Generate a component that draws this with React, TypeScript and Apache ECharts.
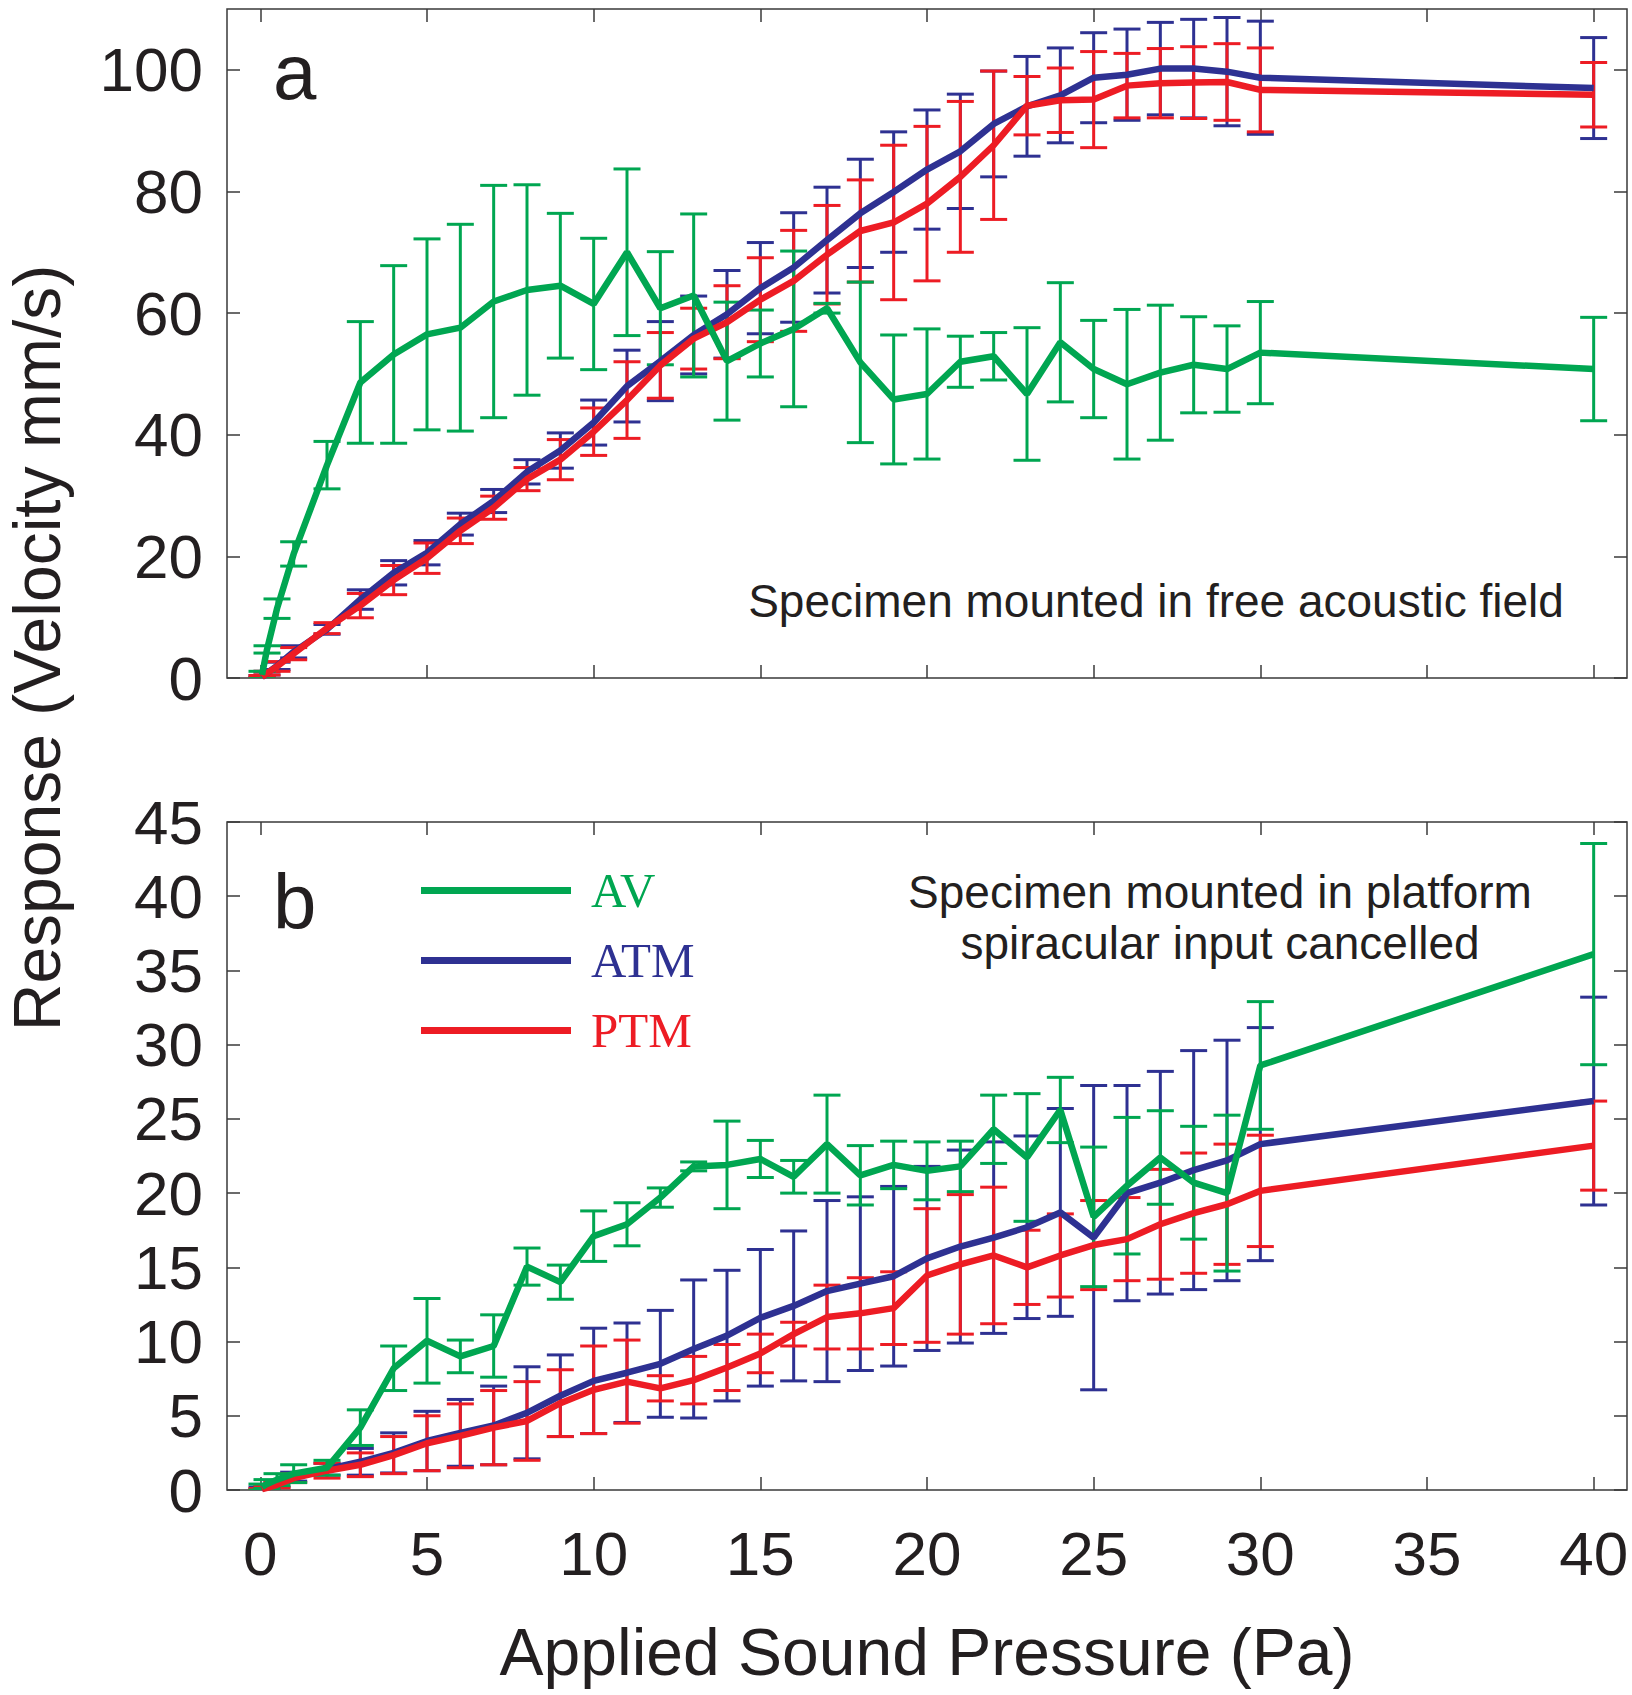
import React, { useEffect, useRef } from "react";
import * as echarts from "echarts";

// Applied sound pressure (Pa)
const PRESSURE = [0.05, 0.2, 0.5, 1, 2, 3, 4, 5, 6, 7, 8, 9, 10, 11, 12, 13, 14, 15, 16, 17, 18, 19, 20, 21, 22, 23, 24, 25, 26, 27, 28, 29, 30, 40];

// Panel a: specimen mounted in free acoustic field
const AV_A_MEAN = [0.5, 4.7, 11.4, 20.4, 35.0, 48.6, 53.2, 56.5, 57.6, 61.9, 63.8, 64.5, 61.5, 70.0, 60.8, 62.9, 52.1, 55.0, 57.4, 60.8, 51.9, 45.8, 46.7, 52.0, 52.9, 46.7, 55.2, 50.8, 48.3, 50.2, 51.5, 50.8, 53.5, 50.8];
const AV_A_SD = [0.6, 0.6, 1.6, 2.0, 3.9, 10.0, 14.6, 15.7, 17.0, 19.1, 17.3, 11.9, 10.8, 13.7, 9.3, 13.4, 9.7, 5.5, 12.8, 0.8, 13.2, 10.6, 10.7, 4.2, 3.9, 10.9, 9.8, 8.0, 12.3, 11.1, 7.9, 7.1, 8.4, 8.5];
const ATM_A_MEAN = [0.2, 0.8, 2.0, 4.3, 8.0, 12.9, 17.3, 20.6, 25.3, 29.1, 33.9, 37.4, 42.0, 48.0, 52.1, 56.4, 59.8, 64.1, 67.5, 72.0, 76.4, 79.9, 83.6, 86.6, 91.1, 94.0, 95.8, 98.7, 99.2, 100.2, 100.2, 99.7, 98.7, 97.0];
const ATM_A_SD = [0.2, 0.3, 0.6, 1.0, 0.8, 1.6, 2.0, 2.0, 1.8, 1.9, 2.0, 2.9, 3.7, 5.9, 6.5, 6.4, 7.2, 7.5, 9.0, 8.7, 8.9, 9.9, 9.8, 9.4, 8.7, 8.2, 7.8, 7.4, 7.5, 7.6, 8.1, 8.9, 9.3, 8.3];
const PTM_A_MEAN = [0.2, 0.8, 1.9, 4.0, 8.2, 11.9, 16.1, 19.7, 24.2, 28.0, 32.7, 35.9, 40.5, 45.7, 51.4, 55.8, 58.5, 62.2, 65.3, 69.6, 73.5, 74.9, 78.0, 82.4, 87.6, 94.1, 95.0, 95.1, 97.4, 97.8, 97.9, 98.0, 96.7, 95.9];
const PTM_A_SD = [0.2, 0.3, 0.8, 1.0, 0.9, 2.0, 2.4, 2.5, 2.1, 1.9, 1.9, 3.3, 3.9, 6.3, 5.4, 5.0, 6.0, 6.9, 8.3, 8.1, 8.4, 12.7, 12.7, 12.4, 12.2, 4.8, 5.3, 7.9, 5.3, 5.7, 5.9, 6.3, 6.9, 5.3];

// Panel b: specimen mounted in platform, spiracular input cancelled
const AV_B_MEAN = [0.2, 0.4, 0.7, 1.1, 1.5, 4.2, 8.2, 10.05, 9.0, 9.7, 15.05, 14.0, 17.1, 17.9, 19.7, 21.8, 21.9, 22.3, 21.1, 23.3, 21.2, 21.9, 21.5, 21.8, 24.3, 22.4, 25.6, 18.4, 20.5, 22.4, 20.7, 20.0, 28.6, 36.1];
const AV_B_SD = [0.2, 0.3, 0.4, 0.6, 0.5, 1.2, 1.5, 2.85, 1.1, 2.1, 1.25, 1.15, 1.7, 1.45, 0.65, 0.3, 2.95, 1.25, 1.1, 3.3, 2.0, 1.6, 1.95, 1.7, 2.3, 4.3, 2.2, 4.7, 4.6, 3.15, 3.8, 5.25, 4.3, 7.45];
const ATM_B_MEAN = [0.1, 0.2, 0.4, 0.9, 1.4, 1.9, 2.5, 3.3, 3.85, 4.35, 5.2, 6.35, 7.35, 7.9, 8.5, 9.5, 10.4, 11.6, 12.4, 13.4, 13.9, 14.4, 15.6, 16.4, 17.0, 17.7, 18.7, 17.0, 20.0, 20.7, 21.55, 22.2, 23.3, 26.2];
const ATM_B_SD = [0.1, 0.1, 0.2, 0.3, 0.4, 0.9, 1.35, 2.0, 2.25, 2.65, 3.1, 2.75, 3.55, 3.35, 3.6, 4.65, 4.4, 4.6, 5.05, 6.1, 5.85, 6.05, 6.2, 6.5, 6.45, 6.15, 7.0, 10.25, 7.25, 7.5, 8.05, 8.1, 7.85, 7.0];
const PTM_B_MEAN = [0.05, 0.15, 0.35, 0.8, 1.3, 1.7, 2.35, 3.15, 3.65, 4.2, 4.65, 5.85, 6.75, 7.3, 6.85, 7.4, 8.25, 9.2, 10.5, 11.65, 11.9, 12.25, 14.45, 15.2, 15.8, 15.0, 15.8, 16.5, 16.9, 17.9, 18.65, 19.25, 20.15, 23.2];
const PTM_B_SD = [0.05, 0.1, 0.2, 0.3, 0.5, 0.8, 1.25, 1.85, 2.15, 2.5, 2.65, 2.25, 2.95, 2.8, 0.85, 1.6, 1.55, 1.3, 0.8, 2.15, 2.4, 2.45, 4.5, 4.7, 4.6, 2.5, 2.8, 3.0, 2.8, 3.7, 4.05, 4.05, 3.75, 3.0];

// Tick labels
const X_TICKS = [0, 5, 10, 15, 20, 25, 30, 35, 40];
const Y_TICKS_A = [0, 20, 40, 60, 80, 100];
const Y_TICKS_B = [0, 5, 10, 15, 20, 25, 30, 35, 40, 45];

const GREEN = "#00A651";
const BLUE = "#2E3192";
const RED = "#ED1C24";
const TEXT = "#231F20";
const FRAME = "#3a3a3a";
const SANS = "'Liberation Sans', Arial, Helvetica, sans-serif";
const SERIF = "'Liberation Serif', 'Times New Roman', serif";

function xAxisCfg(gridIndex: number, position: string, showLabels: boolean) {
  return {
    type: "value",
    gridIndex,
    position,
    min: -1,
    max: 41,
    axisLine: { show: false, onZero: false },
    splitLine: { show: false },
    axisTick: { show: true, inside: true, length: 13, lineStyle: { color: FRAME, width: 1.5 }, customValues: X_TICKS },
    axisLabel: { show: showLabels, customValues: X_TICKS, margin: 32, fontSize: 62, color: TEXT, fontFamily: SANS },
  };
}

function yAxisCfg(gridIndex: number, position: string, max: number, ticks: number[], showLabels: boolean) {
  return {
    type: "value",
    gridIndex,
    position,
    min: 0,
    max,
    axisLine: { show: false, onZero: false },
    splitLine: { show: false },
    axisTick: { show: true, inside: true, length: 13, lineStyle: { color: FRAME, width: 1.5 }, customValues: ticks },
    axisLabel: { show: showLabels, customValues: ticks, margin: 24, fontSize: 62, color: TEXT, fontFamily: SANS },
  };
}

function errorSeries(name: string, axis: number, means: number[], sds: number[], color: string) {
  return {
    type: "custom",
    name,
    xAxisIndex: axis,
    yAxisIndex: axis,
    clip: true,
    silent: true,
    data: PRESSURE.map((x, i) => [x, means[i] - sds[i], means[i] + sds[i]]),
    encode: { x: 0, y: [1, 2] },
    renderItem: (_params: any, api: any) => {
      const x = api.value(0);
      const lo = api.coord([x, api.value(1)]);
      const hi = api.coord([x, api.value(2)]);
      const hw = 13.5;
      const style = { stroke: color, lineWidth: 3, fill: "none" };
      return {
        type: "group",
        children: [
          { type: "line", shape: { x1: lo[0], y1: lo[1], x2: hi[0], y2: hi[1] }, style },
          { type: "line", shape: { x1: lo[0] - hw, y1: lo[1], x2: lo[0] + hw, y2: lo[1] }, style },
          { type: "line", shape: { x1: hi[0] - hw, y1: hi[1], x2: hi[0] + hw, y2: hi[1] }, style },
        ],
      };
    },
  };
}

function lineSeries(name: string, axis: number, means: number[], color: string) {
  return {
    type: "line",
    name,
    xAxisIndex: axis,
    yAxisIndex: axis,
    data: PRESSURE.map((x, i) => [x, means[i]]),
    showSymbol: false,
    symbol: "none",
    color,
    lineStyle: { color, width: 6.5 },
    clip: true,
  };
}

export default function App() {
  const ref = useRef<HTMLDivElement>(null);
  useEffect(() => {
    if (!ref.current) return;
    const chart = echarts.init(ref.current, null, { renderer: "svg" });
    const option: any = {
      animation: false,
      backgroundColor: "#ffffff",
      grid: [
        { left: 227, top: 9, width: 1400, height: 669, show: true, borderColor: FRAME, borderWidth: 1.5, backgroundColor: "transparent" },
        { left: 227, top: 822, width: 1400, height: 668, show: true, borderColor: FRAME, borderWidth: 1.5, backgroundColor: "transparent" },
      ],
      xAxis: [
        xAxisCfg(0, "bottom", false),
        xAxisCfg(1, "bottom", true),
        xAxisCfg(0, "top", false),
        xAxisCfg(1, "top", false),
      ],
      yAxis: [
        yAxisCfg(0, "left", 110, Y_TICKS_A, true),
        yAxisCfg(1, "left", 45, Y_TICKS_B, true),
        yAxisCfg(0, "right", 110, Y_TICKS_A, false),
        yAxisCfg(1, "right", 45, Y_TICKS_B, false),
      ],
      legend: {
        orient: "vertical",
        left: 416,
        top: 861,
        itemWidth: 150,
        itemHeight: 7,
        itemGap: 21,
        icon: "rect",
        selectedMode: false,
        textStyle: { fontFamily: SERIF, fontSize: 49, padding: [0, 0, 0, 15] },
        data: [
          { name: "AV", textStyle: { color: GREEN } },
          { name: "ATM", textStyle: { color: BLUE } },
          { name: "PTM", textStyle: { color: RED } },
        ],
      },
      series: [
        errorSeries("ATM error a", 0, ATM_A_MEAN, ATM_A_SD, BLUE),
        lineSeries("ATM", 0, ATM_A_MEAN, BLUE),
        errorSeries("PTM error a", 0, PTM_A_MEAN, PTM_A_SD, RED),
        lineSeries("PTM", 0, PTM_A_MEAN, RED),
        errorSeries("AV error a", 0, AV_A_MEAN, AV_A_SD, GREEN),
        lineSeries("AV", 0, AV_A_MEAN, GREEN),
        errorSeries("ATM error b", 1, ATM_B_MEAN, ATM_B_SD, BLUE),
        lineSeries("ATM", 1, ATM_B_MEAN, BLUE),
        errorSeries("PTM error b", 1, PTM_B_MEAN, PTM_B_SD, RED),
        lineSeries("PTM", 1, PTM_B_MEAN, RED),
        errorSeries("AV error b", 1, AV_B_MEAN, AV_B_SD, GREEN),
        lineSeries("AV", 1, AV_B_MEAN, GREEN),
      ],
      graphic: [
        {
          type: "text",
          x: 37,
          y: 648,
          rotation: Math.PI / 2,
          style: { text: "Response (Velocity mm/s)", fontSize: 66, fontFamily: SANS, fill: TEXT, align: "center", verticalAlign: "middle" },
        },
        {
          type: "text",
          x: 927,
          y: 1652,
          style: { text: "Applied Sound Pressure (Pa)", fontSize: 66, fontFamily: SANS, fill: TEXT, align: "center", verticalAlign: "middle" },
        },
        {
          type: "text",
          x: 273,
          y: 72,
          style: { text: "a", fontSize: 78, fontFamily: SANS, fill: TEXT, align: "left", verticalAlign: "middle" },
        },
        {
          type: "text",
          x: 273,
          y: 902,
          style: { text: "b", fontSize: 78, fontFamily: SANS, fill: TEXT, align: "left", verticalAlign: "middle" },
        },
        {
          type: "text",
          x: 1156,
          y: 601,
          style: { text: "Specimen mounted in free acoustic field", fontSize: 46, fontFamily: SANS, fill: TEXT, align: "center", verticalAlign: "middle" },
        },
        {
          type: "text",
          x: 1220,
          y: 892,
          style: { text: "Specimen mounted in platform", fontSize: 46, fontFamily: SANS, fill: TEXT, align: "center", verticalAlign: "middle" },
        },
        {
          type: "text",
          x: 1220,
          y: 943,
          style: { text: "spiracular input cancelled", fontSize: 46, fontFamily: SANS, fill: TEXT, align: "center", verticalAlign: "middle" },
        },
      ],
    };
    chart.setOption(option);
    return () => chart.dispose();
  }, []);
  return (
    <div
      ref={ref}
      style={{ position: "absolute", left: 0, top: 0, width: 1632, height: 1695, background: "#ffffff" }}
    />
  );
}
